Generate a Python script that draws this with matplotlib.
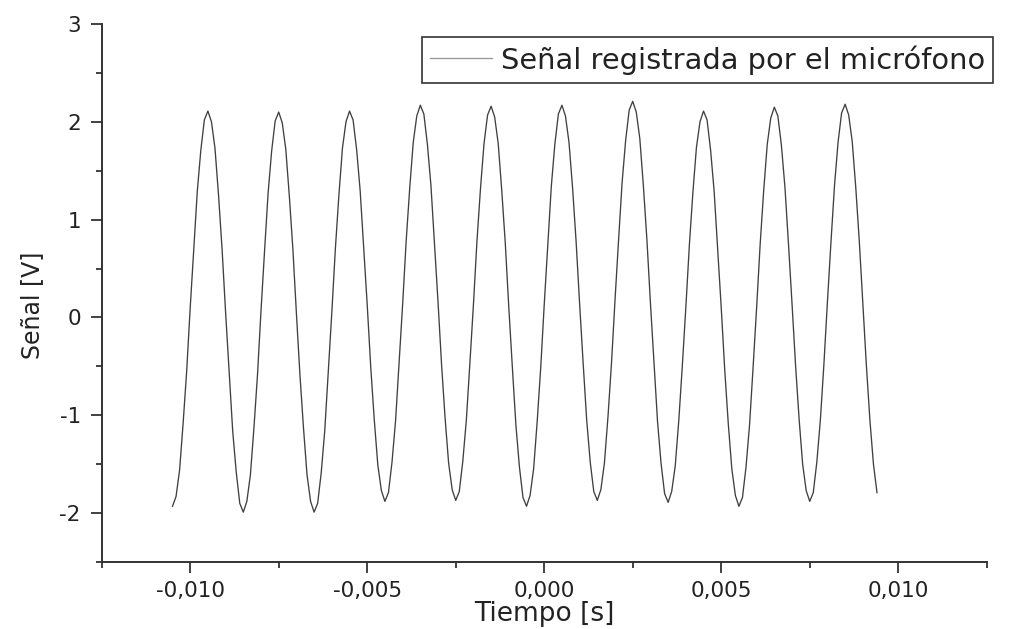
import numpy as np
import matplotlib
matplotlib.use("Agg")
import matplotlib.pyplot as plt
from matplotlib.ticker import MultipleLocator, FuncFormatter

plt.rcParams["font.family"] = ["DejaVu Sans"]

# microphone signal, one sample every 0.1 ms starting at -10.5 ms
t_start = -0.0105
dt = 0.0001
signal_v = [
    -1.93, -1.83, -1.56, -1.08, -0.55, 0.10, 0.70, 1.29, 1.71, 2.02, 2.11,
    2.00, 1.73, 1.25, 0.70, 0.05, -0.56, -1.16, -1.58, -1.90, -1.99,
    -1.88, -1.61, -1.13, -0.59, 0.07, 0.68, 1.27, 1.70, 2.01, 2.10,
    1.99, 1.72, 1.24, 0.70, 0.04, -0.59, -1.13, -1.61, -1.88, -1.99,
    -1.90, -1.59, -1.16, -0.56, 0.05, 0.70, 1.25, 1.73, 2.00, 2.11,
    2.02, 1.72, 1.30, 0.72, 0.13, -0.51, -1.05, -1.51, -1.77, -1.88,
    -1.79, -1.48, -1.06, -0.47, 0.13, 0.78, 1.32, 1.79, 2.06, 2.17,
    2.08, 1.77, 1.35, 0.76, 0.16, -0.48, -1.03, -1.49, -1.76, -1.87,
    -1.78, -1.47, -1.05, -0.47, 0.13, 0.78, 1.32, 1.78, 2.07, 2.16,
    2.05, 1.78, 1.30, 0.76, 0.10, -0.51, -1.10, -1.53, -1.84, -1.93,
    -1.82, -1.55, -1.07, -0.52, 0.13, 0.74, 1.34, 1.77, 2.08, 2.17,
    2.06, 1.79, 1.33, 0.78, 0.14, -0.47, -1.05, -1.48, -1.78, -1.87,
    -1.76, -1.49, -1.02, -0.47, 0.18, 0.79, 1.38, 1.81, 2.12, 2.21,
    2.10, 1.83, 1.35, 0.80, 0.15, -0.46, -1.06, -1.49, -1.80, -1.89,
    -1.78, -1.52, -1.06, -0.50, 0.10, 0.74, 1.28, 1.74, 2.00, 2.11,
    2.02, 1.71, 1.29, 0.70, 0.10, -0.54, -1.09, -1.55, -1.82, -1.93,
    -1.84, -1.53, -1.10, -0.51, 0.10, 0.75, 1.30, 1.77, 2.04, 2.15,
    2.06, 1.76, 1.33, 0.75, 0.14, -0.49, -1.04, -1.50, -1.77, -1.88,
    -1.79, -1.48, -1.05, -0.48, 0.16, 0.77, 1.35, 1.79, 2.09, 2.18,
    2.07, 1.80, 1.33, 0.78, 0.14, -0.49, -1.05, -1.50, -1.79,
]
t = t_start + dt * np.arange(len(signal_v))

x_limits = (-0.0125, 0.0125)
y_limits = (-2.5, 3.0)
legend_text = "Señal registrada por el micrófono"

axis_color = "#333333"

fig = plt.figure(figsize=(10.11, 6.29), dpi=100)
ax = fig.add_axes([0.1006, 0.1065, 0.8754, 0.8553])

ax.plot(t, signal_v, color="#404040", linewidth=0.95, label=legend_text)

ax.set_xlim(*x_limits)
ax.set_ylim(*y_limits)

for side in ("top", "right"):
    ax.spines[side].set_visible(False)
for side in ("left", "bottom"):
    ax.spines[side].set_color(axis_color)
    ax.spines[side].set_linewidth(1.4)

ax.xaxis.set_major_locator(MultipleLocator(0.005))
ax.xaxis.set_minor_locator(MultipleLocator(0.0025))
ax.yaxis.set_major_locator(MultipleLocator(1))
ax.yaxis.set_minor_locator(MultipleLocator(0.5))

# decimal comma, plain hyphen for negatives
ax.xaxis.set_major_formatter(FuncFormatter(lambda v, p: f"{v:.3f}".replace(".", ",").replace("-0,000", "0,000")))
ax.yaxis.set_major_formatter(FuncFormatter(lambda v, p: "0" if abs(v) < 1e-9 else f"{v:.0f}"))

ax.tick_params(which="both", direction="out", color=axis_color, width=1.3,
               labelcolor="#222222", labelsize=15.5)
ax.tick_params(which="major", length=8)
ax.tick_params(which="minor", length=4.5)
ax.tick_params(axis="x", pad=6)
ax.tick_params(axis="y", pad=7)

ax.set_xlabel("Tiempo [s]", fontsize=19, color="#222222")
ax.set_ylabel("Señal [V]", fontsize=17, color="#222222")
ax.xaxis.set_label_coords(0.5, -0.072)
ax.yaxis.set_label_coords(-0.065, 0.478)

leg = ax.legend(loc="upper left", bbox_to_anchor=(422 / 1011, 1 - 37 / 629),
                bbox_transform=fig.transFigure, fontsize=20.8, frameon=True,
                fancybox=False, framealpha=1, borderpad=0.28, borderaxespad=0,
                handlelength=2.15, handletextpad=0.3)
leg.get_frame().set_edgecolor(axis_color)
leg.get_frame().set_linewidth(1.2)
leg.get_lines()[0].set_color("#9a9a9a")
for txt in leg.get_texts():
    txt.set_color("#222222")

fig.savefig("out.png", dpi=100)
